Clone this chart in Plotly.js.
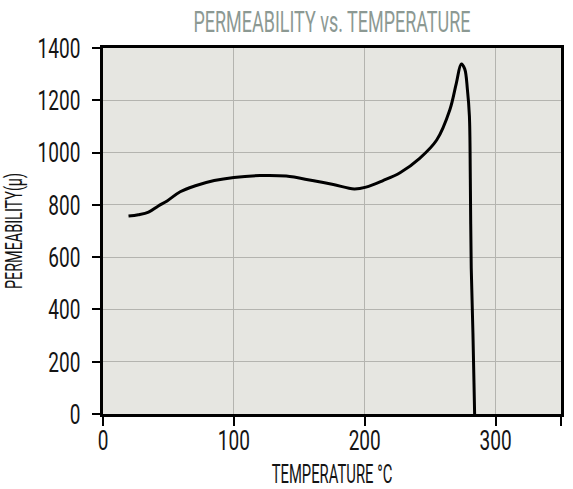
<!DOCTYPE html>
<html>
<head>
<meta charset="utf-8">
<script src="https://cdn.plot.ly/plotly-3.0.1.min.js"></script>
<style>
  html, body { margin: 0; padding: 0; background: #ffffff; }
  #chart { width: 573px; height: 489px; }
</style>
</head>
<body>
<div id="chart"></div>
<script>
// Temperature (°C) and permeability readings for the curve
const temperature = [19.5, 27, 34.8, 42, 49, 59, 70, 85, 100, 120, 140, 160, 176, 192, 201, 214, 227, 242, 255, 265, 270, 273.8, 276.4, 278.5, 280, 280.7, 281.4, 282.7, 283.5, 284];
const permeability = [757, 762, 772, 795, 815, 850, 872, 893, 905, 912, 910, 893, 878, 861, 868, 893, 923, 978, 1048, 1163, 1265, 1339, 1320, 1240, 1140, 900, 560, 310, 120, 0];

// Axis ticks
const xTickVals = [0, 100, 200, 300, 350];
const xTickText = ['0', '100', '200', '300', ''];
const yTickVals = [0, 200, 400, 600, 800, 1000, 1200, 1400];

const face = 'Roboto, "Noto Sans", sans-serif';

const trace = {
  x: temperature,
  y: permeability,
  type: 'scatter',
  mode: 'lines',
  line: { color: '#000000', width: 3, shape: 'spline', smoothing: 1 },
  hoverinfo: 'skip'
};

const layout = {
  width: 573,
  height: 489,
  margin: { l: 103, r: 12, t: 48, b: 75 },
  paper_bgcolor: '#ffffff',
  plot_bgcolor: '#e6e6e1',
  showlegend: false,
  title: {
    text: 'PERMEABILITY vs. TEMPERATURE',
    font: { family: face, size: 29, color: '#8c9993' },
    x: 0.5, xref: 'paper', xanchor: 'center',
    y: 0.955, yanchor: 'middle'
  },
  xaxis: {
    range: [0, 350],
    tickvals: xTickVals,
    ticktext: xTickText,
    ticks: 'outside',
    ticklen: 9,
    tickwidth: 2,
    tickcolor: '#000000',
    ticklabelstandoff: -10,
    showline: true,
    linecolor: '#000000',
    linewidth: 3,
    mirror: true,
    showgrid: true,
    gridcolor: '#b4b4af',
    gridwidth: 1,
    zeroline: false,
    automargin: false,
    tickfont: { family: face, size: 28, color: '#141414' },
    title: {
      text: 'TEMPERATURE °C',
      font: { family: face, size: 26, color: '#141414' },
      standoff: 12
    }
  },
  yaxis: {
    range: [0, 1400],
    tickvals: yTickVals,
    ticks: 'outside',
    ticklen: 8,
    tickwidth: 2,
    tickcolor: '#000000',
    ticklabelstandoff: 6,
    showline: true,
    linecolor: '#000000',
    linewidth: 3,
    mirror: true,
    showgrid: true,
    gridcolor: '#b4b4af',
    gridwidth: 1,
    zeroline: false,
    automargin: false,
    tickfont: { family: face, size: 28, color: '#141414' },
    title: {
      text: 'PERMEABILITY(μ)',
      font: { family: face, size: 24, color: '#141414' },
      standoff: 0
    }
  }
};

// Narrow the lettering horizontally around each text's own anchor point
function squeeze(root, selector, sx) {
  root.querySelectorAll(selector).forEach(function (t) {
    const x = parseFloat(t.getAttribute('x')) || 0;
    const y = parseFloat(t.getAttribute('y')) || 0;
    const base = t.getAttribute('transform') || '';
    t.setAttribute('transform',
      base + ' translate(' + x + ',' + y + ') scale(' + sx + ',1) translate(' + (-x) + ',' + (-y) + ')');
  });
}

const gd = document.getElementById('chart');
Plotly.newPlot(gd, [trace], layout, { staticPlot: true, displayModeBar: false }).then(function () {
  squeeze(gd, '.xtick text, .ytick text', 0.68);
  squeeze(gd, '.gtitle', 0.62);
  squeeze(gd, '.xtitle', 0.57);
  squeeze(gd, '.ytitle', 0.6);
});
</script>
</body>
</html>
